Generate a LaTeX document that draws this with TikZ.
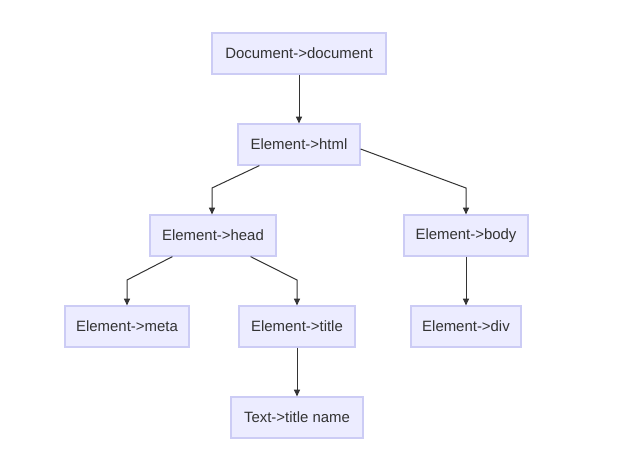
\documentclass[tikz,border=0pt]{standalone}
\usepackage{fontspec}
\setmainfont{Liberation Sans}
\usetikzlibrary{arrows.meta}
\definecolor{nodefill}{HTML}{ECECFF}
\definecolor{nodedraw}{HTML}{CCCCF5}
\definecolor{edgecol}{HTML}{333333}
\definecolor{txtcol}{HTML}{333333}
\begin{document}
\begin{tikzpicture}[x=0.75pt,y=-0.75pt,
  box/.style={draw=nodedraw,fill=nodefill,line width=0.9pt,minimum height=41*0.75pt,inner sep=0pt,
    text=txtcol,font=\fontsize{11.2pt}{13pt}\selectfont},
  edge/.style={draw=edgecol,line width=0.75pt,-{Triangle[length=5pt,width=4.5pt]}}]
\useasboundingbox (0,0) rectangle (638,455);
\node[box,minimum width=174*0.75pt] (doc) at (299,53.5) {Document->document};
\node[box,minimum width=122*0.75pt] (html) at (299,144.5) {Element->html};
\node[box,minimum width=126*0.75pt] (head) at (213,235.5) {Element->head};
\node[box,minimum width=124*0.75pt] (body) at (466,235.5) {Element->body};
\node[box,minimum width=124*0.75pt] (meta) at (127,326.5) {Element->meta};
\node[box,minimum width=116*0.75pt] (title) at (297,326.5) {Element->title};
\node[box,minimum width=110*0.75pt] (div) at (466,326.5) {Element->div};
\node[box,minimum width=132*0.75pt] (text) at (297,417.5) {Text->title name};
\coordinate (c1) at (212,188);
\coordinate (c2) at (466,188);
\coordinate (c3) at (127,280);
\coordinate (c4) at (297,280);
\draw[edge] (doc) -- (html);
\draw[edge] (html.south west) ++(22*0.75pt,0) -- (c1) -- (head.north -| c1);
\draw[edge] (html.east) ++(0,-4.5*0.75pt) -- (c2) -- (body.north);
\draw[edge] (head.south west) ++(23*0.75pt,0) -- (c3) -- (meta.north);
\draw[edge] (head.south east) ++(-26*0.75pt,0) -- (c4) -- (title.north);
\draw[edge] (body) -- (div);
\draw[edge] (title) -- (text);
\end{tikzpicture}
\end{document}
